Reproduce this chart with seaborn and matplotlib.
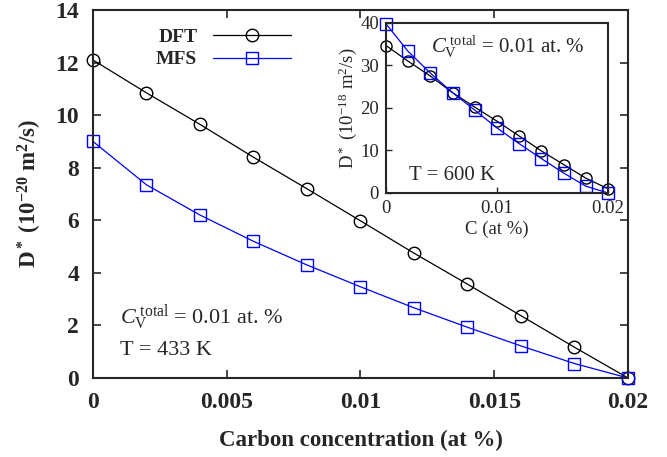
import matplotlib
matplotlib.use("Agg")
import matplotlib.pyplot as plt
import seaborn as sns
import pandas as pd

# ---- data ----
conc = [0.0, 0.002, 0.004, 0.006, 0.008, 0.010, 0.012, 0.014, 0.016, 0.018, 0.020]
dft_433 = [12.1, 10.85, 9.65, 8.4, 7.2, 5.98, 4.75, 3.57, 2.37, 1.17, 0.0]
mfs_433 = [9.0, 7.35, 6.2, 5.2, 4.3, 3.47, 2.67, 1.93, 1.22, 0.55, 0.0]
dft_600 = [34.7, 31.0, 27.5, 23.6, 20.2, 16.9, 13.4, 9.9, 6.7, 3.5, 1.0]
mfs_600 = [39.8, 33.3, 28.2, 23.6, 19.5, 15.3, 11.6, 8.1, 4.7, 1.6, 0.0]
xticks_main = [0, 0.005, 0.01, 0.015, 0.02]
xticklabels_main = ["0", "0.005", "0.01", "0.015", "0.02"]
yticks_main = [0, 2, 4, 6, 8, 10, 12, 14]
xticks_inset = [0, 0.01, 0.02]
xticklabels_inset = ["0", "0.01", "0.02"]
yticks_inset = [0, 10, 20, 30, 40]

sns.set_style("ticks")
plt.rcParams["font.family"] = ["Liberation Serif", "DejaVu Serif"]
plt.rcParams["mathtext.fontset"] = "custom"
plt.rcParams["mathtext.rm"] = "Liberation Serif"
plt.rcParams["mathtext.it"] = "Liberation Serif:italic"
plt.rcParams["mathtext.bf"] = "Liberation Serif:bold"

df_main = pd.DataFrame({"C": conc, "DFT": dft_433, "MFS": mfs_433})
df_in = pd.DataFrame({"C": conc, "DFT": dft_600, "MFS": mfs_600})

fig = plt.figure(figsize=(6.67, 4.57), dpi=100)
ax = fig.add_axes([0.1394, 0.1729, 0.8021, 0.8051])

style = {"DFT": ("black", "o"), "MFS": ("blue", "s")}
for name, (col, mk) in style.items():
    sns.lineplot(data=df_main, x="C", y=name, ax=ax, color=col, marker=mk,
                 markersize=9, mfc="none", mec=col, mew=1.0, lw=0.9, label=name,
                 clip_on=False)

ax.set_xlim(0, 0.02)
ax.set_ylim(0, 14)
ax.set_xticks(xticks_main)
ax.set_xticklabels(xticklabels_main)
ax.set_yticks(yticks_main)
ax.tick_params(direction="in", top=True, right=True, length=6, width=1.2,
               labelsize=17, pad=10)
for lab in ax.get_xticklabels() + ax.get_yticklabels():
    lab.set_fontweight("bold")
for s in ax.spines.values():
    s.set_linewidth(1.5)
    s.set_visible(True)
ax.set_xlabel("Carbon concentration (at %)", fontsize=16.5, fontweight="bold", labelpad=12)
ax.set_ylabel(r"$\mathbf{D^*\ (10^{-20}\ m^2/s)}$", fontsize=16.5, labelpad=8)

leg = ax.legend(loc="upper left", bbox_to_anchor=(0.085, 0.998), frameon=False,
                markerfirst=False, handlelength=4.0,
                prop={"weight": "bold", "size": 14}, labelspacing=0.25)

ax.text(0.00102, 2.05, r"$C_{\rm V}^{\ \rm total}$ = 0.01 at. %", fontsize=16)
ax.text(0.00102, 0.88, "T = 433 K", fontsize=16)

# ---- inset ----
axi = fig.add_axes([0.5787, 0.5777, 0.3328, 0.3720])
for name, (col, mk) in style.items():
    sns.lineplot(data=df_in, x="C", y=name, ax=axi, color=col, marker=mk,
                 markersize=8, mfc="none", mec=col, mew=1.0, lw=0.9, legend=False,
                 clip_on=False)
axi.set_xlim(0, 0.02)
axi.set_ylim(0, 40)
axi.set_xticks(xticks_inset)
axi.set_xticklabels(xticklabels_inset)
axi.set_yticks(yticks_inset)
axi.tick_params(direction="in", length=4, width=1.0, labelsize=13.5, pad=5)
for s in axi.spines.values():
    s.set_linewidth(1.5)
axi.set_xlabel("C (at %)", fontsize=13.5, labelpad=3)
axi.set_ylabel(r"D$^*$ (10$^{-18}$ m$^2$/s)", fontsize=13.5, labelpad=1)
axi.text(0.0041, 33.0, r"$C_{\rm V}^{\ \rm total}$ = 0.01 at. %", fontsize=15)
axi.text(0.0021, 3.0, "T = 600 K", fontsize=15)

fig.savefig("out.png", dpi=100)
